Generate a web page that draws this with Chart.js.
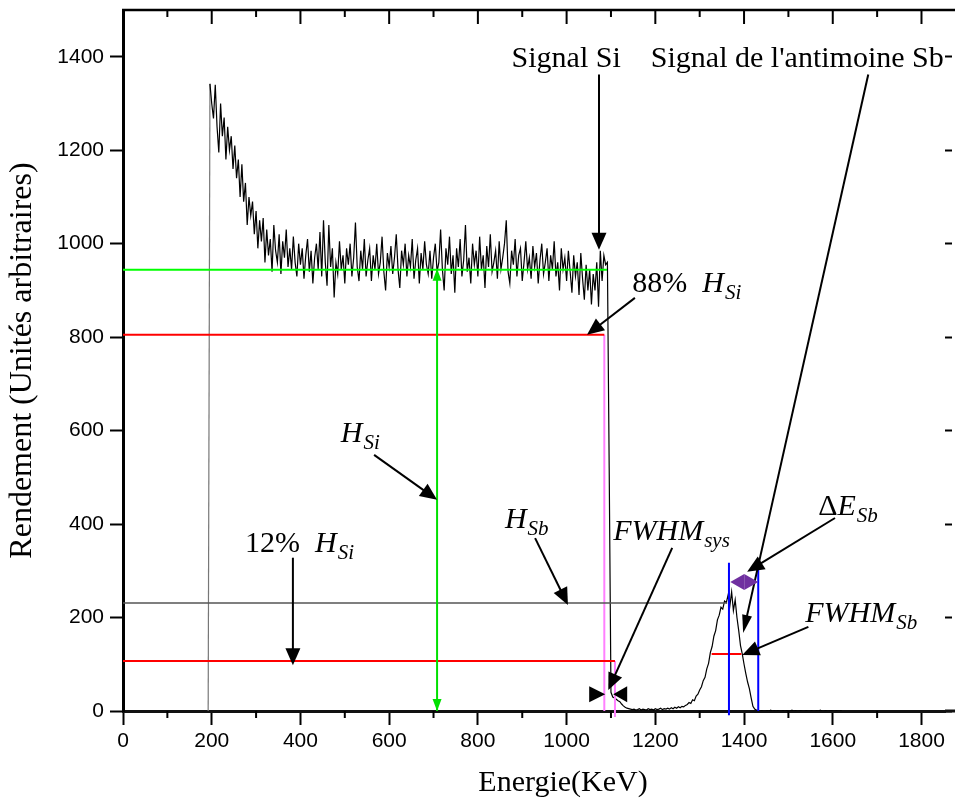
<!DOCTYPE html>
<html lang="fr">
<head>
<meta charset="utf-8">
<title>Spectre RBS - Si / Sb</title>
<script src="https://cdn.jsdelivr.net/npm/chart.js@4.4.1/dist/chart.umd.min.js"></script>
<style>
  html, body { margin: 0; padding: 0; background: #fff; }
  #graph { width: 955px; height: 812px; }
</style>
</head>
<body>
<div id="graph"><canvas id="spectre"></canvas></div>
<script>
// graduations des axes
const graduationsE = [0, 200, 400, 600, 800, 1000, 1200, 1400, 1600, 1800];
const graduationsR = [0, 200, 400, 600, 800, 1000, 1200, 1400];

// grille des canaux (keV) : premier canal et pas
const canalDebut = 192;
const canalPas = 4;

// rendement mesuré canal par canal
const rendement = [
    0, 1342, 1300, 1268, 1340, 1250, 1195, 1300, 1230, 1270,   // 192
    1180, 1250, 1200, 1230, 1160, 1210, 1140, 1180, 1100, 1170, // 232
    1090, 1130, 1040, 1100, 1060, 1090, 1020, 1070, 990, 1050,  // 272
    1005, 1055, 960, 1030, 975, 1010, 940, 1040, 985, 960,      // 312
    1020, 935, 1005, 970, 1030, 950, 990, 945, 1015, 960,       // 352
    930, 1000, 955, 990, 925, 975, 1010, 940, 985, 915,         // 392
    970, 1000, 945, 1025, 930, 1050, 960, 910, 1040, 950,       // 432
    990, 885, 960, 935, 1005, 945, 975, 915, 990, 955,          // 472
    1000, 930, 970, 1045, 950, 920, 985, 945, 1010, 930,        // 512
    965, 990, 920, 975, 945, 1000, 935, 960, 1015, 940,         // 552
    900, 980, 950, 995, 935, 970, 1020, 945, 905, 985,          // 592
    955, 1000, 930, 975, 950, 1010, 925, 965, 990, 915,         // 632
    980, 945, 1005, 955, 935, 985, 925, 970, 1000, 940,         // 672
    960, 1030, 945, 900, 990, 955, 1015, 935, 975, 895,         // 712
    990, 950, 1010, 930, 965, 1040, 940, 970, 915, 1000,        // 752
    955, 985, 930, 1015, 945, 975, 905, 995, 950, 1020,         // 792
    940, 960, 985, 925, 1005, 945, 970, 1000, 1050, 940,        // 832
    915, 985, 955, 1010, 930, 975, 990, 920, 960, 1005,         // 872
    945, 970, 925, 995, 950, 980, 915, 965, 1000, 935,          // 912
    960, 990, 920, 975, 945, 1005, 930, 960, 900, 990,          // 952
    945, 970, 920, 985, 940, 895, 975, 930, 960, 890,           // 992
    980, 925, 880, 955, 900, 945, 870, 935, 900, 960,           // 1032
    865, 985, 920, 975, 955, 960, 520, 40, 30, 28,              // 1072
    25, 22, 20, 15, 11, 8, 6, 5, 4, 3,                          // 1112
    4, 2, 3, 5, 2, 4, 3, 2, 5, 3,                               // 1152
    4, 2, 5, 3, 4, 6, 3, 5, 4, 6,                               // 1192
    4, 7, 5, 8, 6, 9, 7, 10, 9, 12,                             // 1232
    14, 18, 16, 24, 22, 32, 36, 45, 52, 65,                     // 1272
    72, 90, 102, 125, 138, 160, 172, 195, 205, 222,             // 1312
    218, 235, 232, 248, 225, 255, 215, 238, 200, 172,           // 1352
    140, 122, 100, 80, 62, 48, 28, 10, 4, 2,                    // 1392
    1, 0, 1, 0, 0, 1, 0, 2, 0, 1,                               // 1432
    0, 1, 0, 0, 1, 0, 1, 0, 0, 2,                               // 1472
    0, 1, 0, 0, 1, 0, 0, 1, 0, 0,                               // 1512
    1, 0, 0, 1, 0, 2, 0, 0, 1, 0,                               // 1552
    0, 1, 0, 0, 1, 0, 0, 1                                      // 1592
];

// niveaux et bornes repérés sur le spectre
const hauteurSi = 944;      // plateau du silicium
const niveau88 = 805;
const niveau12 = 107;
const hauteurSb = 231;
const demiSb = 122;         // mi-hauteur du pic Sb
const bordSi = [1085, 1109];
const bordsSb = [1366, 1432];
const largeurSb = [1327, 1394];
const energieHSi = 708;

// flèches : [E départ, R départ, E pointe, R pointe]
const fleches = [
    [1073, 1362, 1073, 987],
    [1680, 1362, 1398, 167],
    [1154, 884, 1046, 805],
    [566, 548, 708, 452],
    [383, 328, 383, 98],
    [929, 370, 1003, 227],
    [1238, 349, 1094, 45],
    [1605, 413, 1407, 298],
    [1545, 180, 1396, 120]
];

// textes : position (E, R) et morceaux [texte, style]
const textes = [
    { e: 999, r: 1379, centre: true, parts: [["Signal Si", "n"]] },
    { e: 1520, r: 1379, centre: true, parts: [["Signal de l'antimoine Sb", "n"]] },
    { e: 1148, r: 897, parts: [["88%  ", "n"], ["H", "i"], ["Si", "s"]] },
    { e: 491, r: 576, parts: [["H", "i"], ["Si", "s"]] },
    { e: 275, r: 340, parts: [["12%  ", "n"], ["H", "i"], ["Si", "s"]] },
    { e: 861, r: 392, parts: [["H", "i"], ["Sb", "s"]] },
    { e: 1105, r: 366, parts: [["FWHM", "i"], ["sys", "s"]] },
    { e: 1567, r: 420, parts: [["Δ", "n"], ["E", "i"], ["Sb", "s"]] },
    { e: 1538, r: 191, parts: [["FWHM", "i"], ["Sb", "s"]] }
];

const polices = {
    n: '30px "Liberation Serif"',
    i: 'italic 30px "Liberation Serif"',
    s: 'italic 21px "Liberation Serif"'
};

function pointsSpectre() {
    const pts = [];
    for (let i = 0; i < rendement.length; i++) {
        pts.push({ x: canalDebut + i * canalPas, y: rendement[i] });
    }
    return pts;
}

function segment(a, b, couleur, largeur) {
    return {
        data: [{ x: a[0], y: a[1] }, { x: b[0], y: b[1] }],
        borderColor: couleur,
        borderWidth: largeur || 2,
        pointRadius: 0,
        clip: false
    };
}

// pointe de flèche pleine, pointe en (x1, y1)
function pointe(ctx, x0, y0, x1, y1, long, demi, couleur) {
    const a = Math.atan2(y1 - y0, x1 - x0);
    const bx = x1 - long * Math.cos(a);
    const by = y1 - long * Math.sin(a);
    ctx.fillStyle = couleur;
    ctx.beginPath();
    ctx.moveTo(x1, y1);
    ctx.lineTo(bx + demi * Math.sin(a), by - demi * Math.cos(a));
    ctx.lineTo(bx - demi * Math.sin(a), by + demi * Math.cos(a));
    ctx.closePath();
    ctx.fill();
}

function fleche(ctx, x0, y0, x1, y1, long, demi, couleur) {
    const a = Math.atan2(y1 - y0, x1 - x0);
    ctx.strokeStyle = couleur;
    ctx.lineWidth = 2;
    ctx.beginPath();
    ctx.moveTo(x0, y0);
    ctx.lineTo(x1 - long * 0.8 * Math.cos(a), y1 - long * 0.8 * Math.sin(a));
    ctx.stroke();
    pointe(ctx, x0, y0, x1, y1, long, demi, couleur);
}

function ecrit(ctx, x, y, parts, centre) {
    let total = 0;
    parts.forEach(function (p) {
        ctx.font = polices[p[1]];
        total += ctx.measureText(p[0]).width;
    });
    let cx = centre ? x - total / 2 : x;
    ctx.fillStyle = "#000";
    ctx.textBaseline = "alphabetic";
    ctx.textAlign = "left";
    parts.forEach(function (p) {
        ctx.font = polices[p[1]];
        ctx.fillText(p[0], cx, p[1] === "s" ? y + 7 : y);
        cx += ctx.measureText(p[0]).width + (p[1] === "i" ? 1 : 0);
    });
}

// cadre : ligne du haut, graduations intérieures, petites graduations du bas
const cadre = {
    id: "cadre",
    afterDraw(chart) {
        const ctx = chart.ctx;
        const area = chart.chartArea;
        const sx = chart.scales.x;
        ctx.save();
        ctx.strokeStyle = "#000";
        ctx.lineWidth = 2.5;
        ctx.beginPath();
        ctx.moveTo(area.left - 1, area.top);
        ctx.lineTo(chart.width, area.top);
        ctx.stroke();
        ctx.strokeStyle = "#111";
        ctx.lineWidth = 3;
        ctx.beginPath();
        ctx.moveTo(area.right, area.bottom);
        ctx.lineTo(chart.width, area.bottom);
        ctx.stroke();
        ctx.lineWidth = 2;
        ctx.strokeStyle = "#000";
        for (let e = 100; e <= 1800; e += 100) {
            const px = sx.getPixelForValue(e);
            const majeur = e % 200 === 0;
            ctx.beginPath();
            ctx.moveTo(px, area.top);
            ctx.lineTo(px, area.top + (majeur ? 14 : 7));
            ctx.stroke();
            if (!majeur) {
                ctx.beginPath();
                ctx.moveTo(px, area.bottom);
                ctx.lineTo(px, area.bottom + 7);
                ctx.stroke();
            }
        }
        // titre de l'axe horizontal
        ctx.font = '30px "Liberation Serif"';
        ctx.fillStyle = "#000";
        ctx.textAlign = "center";
        ctx.textBaseline = "middle";
        ctx.fillText("Energie(KeV)", 563, 783);
        ctx.restore();
    }
};

// flèches et textes posés sur le spectre
const annotations = {
    id: "annotations",
    afterDatasetsDraw(chart) {
        const ctx = chart.ctx;
        const sx = chart.scales.x;
        const sy = chart.scales.y;
        ctx.save();
        fleches.forEach(function (f, i) {
            const fine = i === 1;
            fleche(ctx, sx.getPixelForValue(f[0]), sy.getPixelForValue(f[1]),
                sx.getPixelForValue(f[2]), sy.getPixelForValue(f[3]),
                fine ? 18 : 17, fine ? 5 : 7.5, "#000");
        });

        // double flèche verte H_Si
        const gx = sx.getPixelForValue(energieHSi);
        const gHaut = sy.getPixelForValue(hauteurSi);
        const gBas = sy.getPixelForValue(0);
        pointe(ctx, gx, gHaut + 20, gx, gHaut - 1, 12, 4.5, "#00E000");
        pointe(ctx, gx, gBas - 20, gx, gBas, 12, 4.5, "#00E000");

        // pointes FWHM_sys de part et d'autre du front Si
        const yp = sy.getPixelForValue(36);
        pointe(ctx, sx.getPixelForValue(1051), yp, sx.getPixelForValue(1087), yp, 16, 8, "#000");
        pointe(ctx, sx.getPixelForValue(1136), yp, sx.getPixelForValue(1105), yp, 14, 8, "#000");

        // double flèche violette ΔE_Sb
        const yv = sy.getPixelForValue(276);
        const xa = sx.getPixelForValue(bordsSb[0] + 3);
        const xb = sx.getPixelForValue(bordsSb[1]);
        const xm = (xa + xb) / 2;
        pointe(ctx, xm, yv, xa, yv, xm - xa, 8, "#7030A0");
        pointe(ctx, xm, yv, xb, yv, xb - xm, 8, "#7030A0");

        textes.forEach(function (t) {
            ecrit(ctx, sx.getPixelForValue(t.e), sy.getPixelForValue(t.r), t.parts, t.centre);
        });
        ctx.restore();
    }
};

function graduations(valeurs) {
    return function (scale) {
        scale.ticks = valeurs.map(function (v) { return { value: v }; });
    };
}

// pas de marge ajoutée pour les libellés extrêmes
function sansMarge(largeur, hauteur) {
    return function (s) {
        if (largeur !== null) s.width = largeur;
        if (hauteur !== null) s.height = hauteur;
        s.paddingTop = 0;
        s.paddingBottom = 0;
        s.paddingLeft = 0;
        s.paddingRight = 0;
    };
}

function libelle(v) {
    return String(v);
}

const policeTicks = { family: "Liberation Sans", size: 21 };

new Chart(document.getElementById("spectre"), {
    type: "line",
    data: {
        datasets: [
            segment([0, hauteurSi], [1091, hauteurSi], "#00FF00"),
            segment([energieHSi, hauteurSi], [energieHSi, 0], "#00E000"),
            segment([0, niveau88], [bordSi[0], niveau88], "#FF0000"),
            segment([0, niveau12], [bordSi[1], niveau12], "#FF0000"),
            segment([0, hauteurSb], [1362, hauteurSb], "#555555", 1.5),
            segment([bordSi[0], niveau88], [bordSi[0], 0], "#FF80FF"),
            segment([bordSi[1], niveau12], [bordSi[1], -13], "#FF80FF"),
            segment([bordsSb[0], 317], [bordsSb[0], -9], "#0000FF"),
            segment([bordsSb[1], 317], [bordsSb[1], 0], "#0000FF"),
            segment([largeurSb[0], demiSb], [largeurSb[1], demiSb], "#FF0000"),
            {
                data: pointsSpectre(),
                borderColor: "#000",
                borderWidth: 1.2,
                pointRadius: 0,
                segment: {
                    borderColor: function (c) {
                        return c.p0DataIndex === 0 ? "#777" : "#000";
                    }
                }
            }
        ]
    },
    options: {
        responsive: true,
        maintainAspectRatio: false,
        animation: false,
        devicePixelRatio: 1,
        layout: { padding: { top: 10, left: 0, right: 0, bottom: 0 } },
        plugins: {
            legend: { display: false },
            tooltip: { enabled: false }
        },
        scales: {
            x: {
                type: "linear",
                min: 0,
                max: 1853,
                afterBuildTicks: graduations(graduationsE),
                afterFit: sansMarge(null, 101),
                ticks: { autoSkip: false, callback: libelle, color: "#000", font: policeTicks, padding: 4, maxRotation: 0 },
                grid: { drawOnChartArea: false, tickLength: 14, tickWidth: 2, tickColor: "#000" },
                border: { color: "#111", width: 3 }
            },
            y: {
                min: 0,
                max: 1500,
                afterBuildTicks: graduations(graduationsR),
                afterFit: sansMarge(123, null),
                ticks: { autoSkip: false, callback: libelle, color: "#000", font: policeTicks, padding: 6 },
                grid: { drawOnChartArea: false, tickLength: 13, tickWidth: 2, tickColor: "#000" },
                border: { color: "#000", width: 3 },
                title: {
                    display: true,
                    text: "Rendement (Unités arbitraires)",
                    color: "#000",
                    font: { family: "Liberation Serif", size: 32 },
                    padding: { top: 3, bottom: 0 }
                }
            },
            y2: {
                position: "right",
                min: 0,
                max: 1500,
                afterBuildTicks: graduations(graduationsR),
                afterFit: sansMarge(10, null),
                ticks: { display: false },
                grid: { drawOnChartArea: false, tickLength: 7, tickWidth: 2, tickColor: "#000" },
                border: { display: false }
            }
        }
    },
    plugins: [cadre, annotations]
});
</script>
</body>
</html>
